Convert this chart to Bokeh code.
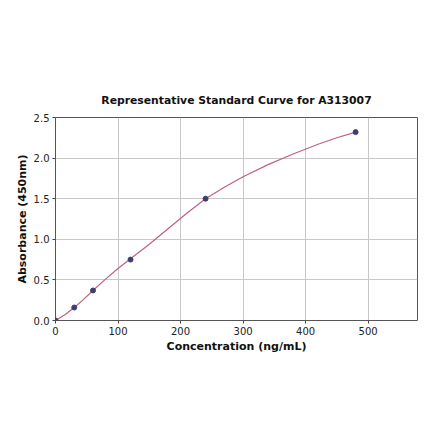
from bokeh.plotting import figure
from bokeh.embed import file_html
from bokeh.resources import INLINE
from bokeh.models import Range1d, FixedTicker, CustomJSTickFormatter

# Standard points
conc = [0, 30, 60, 120, 240, 480]
absorb = [0.0, 0.16, 0.37, 0.75, 1.50, 2.32]

# Fitted curve
curve_x = [0, 15, 30, 45, 60, 80, 100, 120, 150, 180, 210, 240, 270, 300, 340, 380, 420, 450, 480]
curve_y = [0.0, 0.07, 0.16, 0.26, 0.37, 0.51, 0.64, 0.76, 0.94, 1.13, 1.32, 1.50, 1.64, 1.77, 1.92, 2.05, 2.17, 2.25, 2.32]

x_ticks = [0, 100, 200, 300, 400, 500]
y_ticks = [0.0, 0.5, 1.0, 1.5, 2.0, 2.5]

FONT = "DejaVu Sans"

p = figure(width=424, height=425, output_backend="svg", toolbar_location=None,
           x_range=Range1d(0, 579), y_range=Range1d(0, 2.5),
           min_border_left=55, min_border_right=7, min_border_top=117, min_border_bottom=105)

p.title.text = "Representative Standard Curve for A313007"
p.title.text_font = FONT
p.title.text_font_size = "10.8px"
p.title.text_font_style = "bold"
p.title.text_color = "#111111"
p.title.align = "center"
p.title.offset = 0
p.title.standoff = 21

p.line(curve_x, curve_y, line_color="#c0607f", line_width=1.2)
p.scatter(conc, absorb, size=5, fill_color="#3f3f6e", line_color="#3f3f6e")

for ax in (p.xaxis[0], p.yaxis[0]):
    ax.axis_label_text_font = FONT
    ax.axis_label_text_font_style = "bold"
    ax.axis_label_text_font_size = "11px"
    ax.axis_label_text_color = "#111111"
    ax.major_label_text_font = FONT
    ax.major_label_text_font_size = "10px"
    ax.major_label_text_color = "#222222"
    ax.axis_line_color = None
    ax.major_tick_line_color = "#444444"
    ax.major_tick_out = 3
    ax.major_tick_in = 0
    ax.minor_tick_line_color = None

p.xaxis.axis_label = "Concentration (ng/mL)"
p.yaxis.axis_label = "Absorbance (450nm)"
p.xaxis.ticker = FixedTicker(ticks=x_ticks)
p.yaxis.ticker = FixedTicker(ticks=y_ticks)
p.yaxis.formatter = CustomJSTickFormatter(code="return tick.toFixed(1);")
p.xaxis.axis_label_standoff = 2
p.yaxis.axis_label_standoff = 2
p.xaxis.major_label_standoff = 3
p.yaxis.major_label_standoff = 3

p.grid.grid_line_color = "#c8c8c8"
p.grid.grid_line_width = 1
p.outline_line_color = "#555555"
p.outline_line_width = 1
p.background_fill_color = "white"
p.border_fill_color = "white"

open("out.html", "w").write(file_html(p, INLINE))
